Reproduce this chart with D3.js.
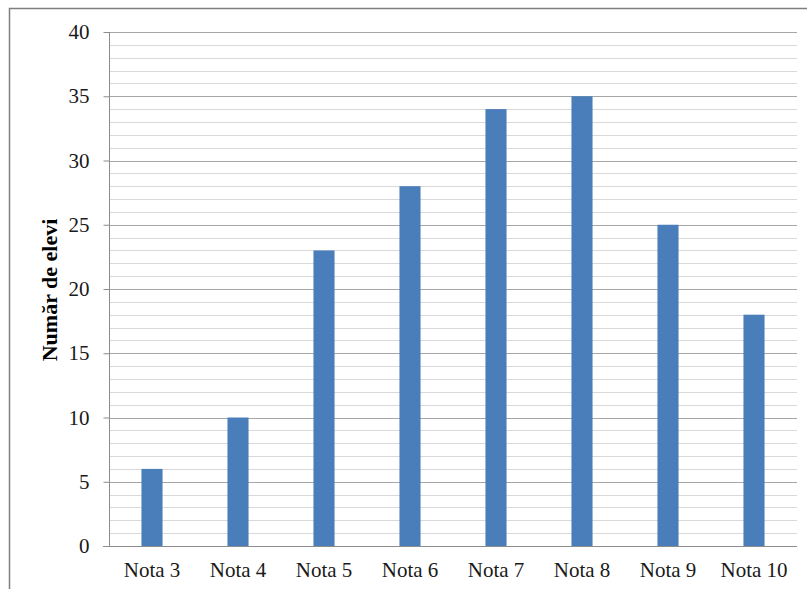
<!DOCTYPE html>
<html>
<head>
<meta charset="utf-8">
<script src="https://cdn.jsdelivr.net/npm/d3@7"></script>
<style>
  html, body { margin: 0; padding: 0; background: #fff; }
  svg { display: block; }
</style>
</head>
<body>
<svg id="chart" width="807" height="589"></svg>
<script>
// Number of pupils per grade
const categories = ["Nota 3", "Nota 4", "Nota 5", "Nota 6", "Nota 7", "Nota 8", "Nota 9", "Nota 10"];
const pupils = [6, 10, 23, 28, 34, 35, 25, 18];
const majorTicks = [0, 5, 10, 15, 20, 25, 30, 35, 40];
const yLabel = "Număr de elevi";

const FONT = "Liberation Serif";
const svg = d3.select("#chart");
const left = 109, right = 797;

// outer frame
svg.append("rect")
  .attr("x", 9.5).attr("y", 8.5)
  .attr("width", 830).attr("height", 620)
  .attr("fill", "none").attr("stroke", "#7f7f7f").attr("stroke-width", 1.5);

const x = d3.scaleBand()
  .domain(categories)
  .range([left, right])
  .paddingInner(0.755)
  .paddingOuter(0.3775);

const y = d3.scaleLinear().domain([0, 40]).range([546, 32]);

// minor gridlines every 1 unit
const minor = d3.range(1, 41).filter(v => v % 5 !== 0);
svg.append("g").selectAll("line").data(minor).join("line")
  .attr("x1", left).attr("x2", right)
  .attr("y1", d => Math.round(y(d)) + 0.5).attr("y2", d => Math.round(y(d)) + 0.5)
  .attr("stroke", "#d9d9d9").attr("stroke-width", 1);

// major gridlines every 5 units
svg.append("g").selectAll("line").data(majorTicks.filter(v => v > 0)).join("line")
  .attr("x1", left).attr("x2", right)
  .attr("y1", d => Math.round(y(d)) + 0.5).attr("y2", d => Math.round(y(d)) + 0.5)
  .attr("stroke", "#a6a6a6").attr("stroke-width", 1);

// bars
svg.append("g").selectAll("rect").data(pupils).join("rect")
  .attr("x", (d, i) => x(categories[i]))
  .attr("width", x.bandwidth())
  .attr("y", d => y(d))
  .attr("height", d => y(0) - y(d))
  .attr("fill", "#4a7ebb");

// y axis
const yAxis = d3.axisLeft(y).tickValues(majorTicks).tickSize(6).tickPadding(14);
const gy = svg.append("g").attr("transform", `translate(${left + 0.5},0)`).call(yAxis)
  .attr("font-family", FONT).attr("font-size", 21);
gy.select(".domain").attr("stroke", "#8c8c8c").attr("d", `M0,${y(40)}V${y(0)}`);
gy.selectAll(".tick line").attr("stroke", "#8c8c8c");
gy.selectAll(".tick text").attr("fill", "#1a1a1a");

// x axis
const xAxis = d3.axisBottom(x).tickSize(0).tickPadding(16);
const gx = svg.append("g").attr("transform", `translate(0,${Math.round(y(0)) + 0.5})`).call(xAxis)
  .attr("font-family", FONT).attr("font-size", 21);
gx.select(".domain").attr("stroke", "#8c8c8c").attr("d", `M${left - 6},0H${right}`);
gx.selectAll(".tick text").attr("fill", "#1a1a1a");

// y axis title
svg.append("text")
  .attr("transform", `translate(57,290) rotate(-90)`)
  .attr("text-anchor", "middle")
  .attr("font-family", FONT).attr("font-size", 22).attr("font-weight", "bold")
  .attr("fill", "#000")
  .text(yLabel);
</script>
</body>
</html>
